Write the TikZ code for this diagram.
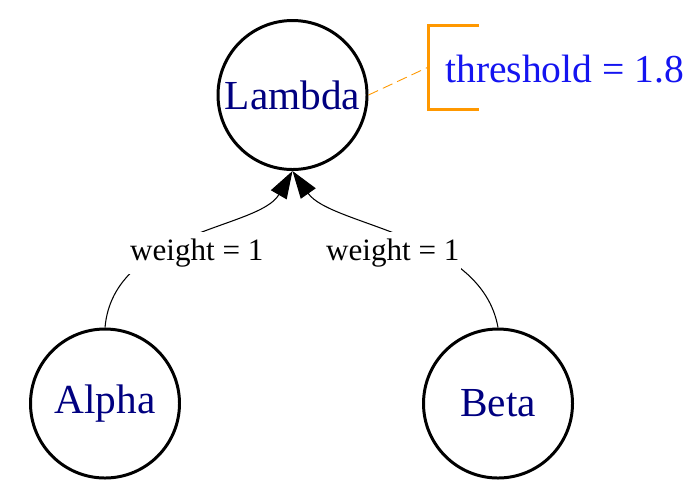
\documentclass[tikz,border=0pt]{standalone}
\usepackage{fontspec}
\setmainfont{Liberation Serif}
\usepackage{tikz}
\usetikzlibrary{arrows.meta}
\definecolor{navytext}{RGB}{0,0,128}
\definecolor{threshblue}{RGB}{20,20,240}
\definecolor{brkorange}{RGB}{255,152,0}
\tikzset{unit/.style={draw,circle,line width=1.7pt,minimum size=2.98cm,inner sep=0pt,text=navytext,font=\fontsize{23.5}{28}\selectfont},wire/.style={line width=.6pt,-{Triangle[length=.55cm,width=.36cm]}},wlabel/.style={fill=white,inner xsep=1pt,inner ysep=4pt,font=\fontsize{17.7}{21}\selectfont}}

\begin{document}
\begin{tikzpicture}[bracket/.style={draw=brkorange,line width=1.7pt},tie/.style={draw=brkorange,dashed,dash pattern=on 6pt off 3pt,line width=.5pt}]
\useasboundingbox (0,0) rectangle (13.98,-9.86);
\node[unit] (lambda) at (5.85,-1.90) {Lambda};
\node[unit] (alpha) at (2.10,-8.07) {Alpha};
\node[unit] (beta) at (9.96,-8.07) {Beta};
\draw[wire] (alpha.north) .. controls +(85:1.95) and +(240:1.35) .. node[wlabel,pos=.53,yshift=-12.5pt]{weight = 1} (lambda.south);
\draw[wire] (beta.north) .. controls +(100:1.9) and +(305:1.35) .. node[wlabel,pos=.54,yshift=-13pt]{weight = 1} (lambda.south);
% threshold note
\coordinate (brk) at (8.57,-1.34);
\draw[tie] (lambda.east) -- (brk);
\draw[bracket] (brk) ++(1.01,.84) -- ++(-1.01,0) -- ++(0,-1.68) -- ++(1.01,0);
\node[anchor=base west,inner sep=0pt,text=threshblue,font=\fontsize{22.5}{27}\selectfont] (thresh) at (8.90,-1.64) {threshold = 1.8};
\end{tikzpicture}
\end{document}
